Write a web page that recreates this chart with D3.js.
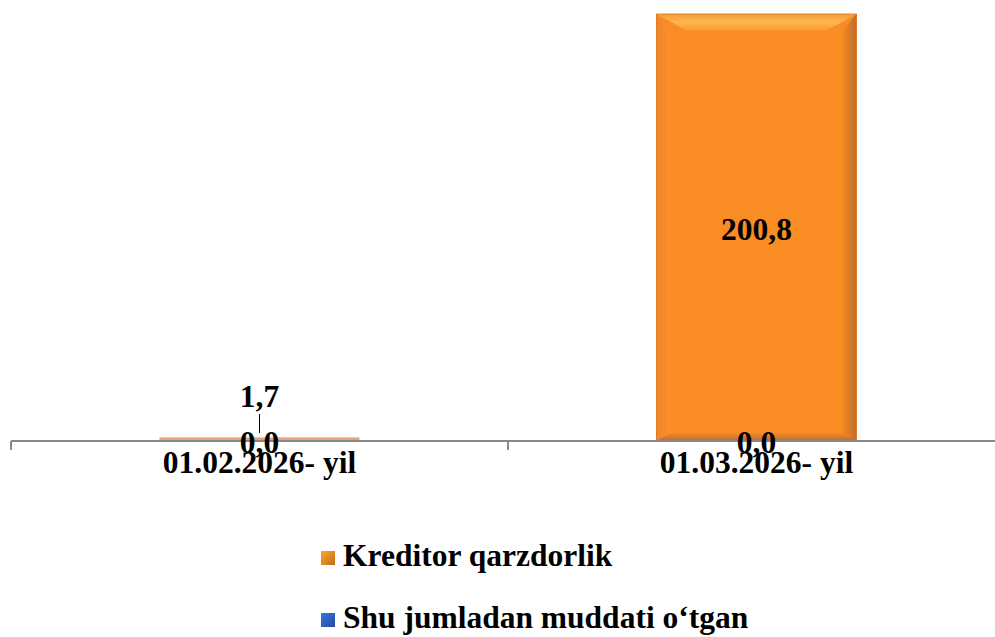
<!DOCTYPE html>
<html><head><meta charset="utf-8">
<script src="https://cdn.jsdelivr.net/npm/d3@7/dist/d3.min.js"></script>
<style>body{margin:0;background:#fff}svg{display:block}</style>
</head><body><svg id="c" width="995" height="637"></svg>
<script>
const categories = ["01.02.2026- yil", "01.03.2026- yil"];
const seriesNames = ["Kreditor qarzdorlik", "Shu jumladan muddati o‘tgan"];
const kreditor = [1.7, 200.8];
const muddati = [0.0, 0.0];
const seriesColors = ["#F98A22", "#2E62C4"];

const FONT = '"Liberation Serif"';
const FS = 31.5;
const svg = d3.select("#c");
const txt = (sel) => sel.append("text").style("font-family", FONT).style("font-weight", "bold").attr("fill", "#000");
const W = 995;
const x = d3.scaleBand().domain(categories).range([11, 1005]).paddingInner(0).paddingOuter(0);
const y = d3.scaleLinear().domain([0, 200.8]).range([441, 14]);
const barW = 200;
const fmt = v => v.toFixed(1).replace(".", ",");

const defs = svg.append("defs");
const gTop = defs.append("linearGradient").attr("id","gTop").attr("x1",0).attr("y1",0).attr("x2",0).attr("y2",1);
gTop.append("stop").attr("offset","0").attr("stop-color","#F49A3A");
gTop.append("stop").attr("offset","0.5").attr("stop-color","#FDB850");
gTop.append("stop").attr("offset","1").attr("stop-color","#FB9A2C");
const gRight = defs.append("linearGradient").attr("id","gRight").attr("x1",0).attr("y1",0).attr("x2",1).attr("y2",0);
gRight.append("stop").attr("offset","0").attr("stop-color","#F38A25");
gRight.append("stop").attr("offset","1").attr("stop-color","#B8692A");
const gLeft = defs.append("linearGradient").attr("id","gLeft").attr("x1",0).attr("y1",0).attr("x2",1).attr("y2",0);
gLeft.append("stop").attr("offset","0").attr("stop-color","#F0852A");
gLeft.append("stop").attr("offset","1").attr("stop-color","#FB8F28");
const gBot = defs.append("linearGradient").attr("id","gBot").attr("x1",0).attr("y1",0).attr("x2",0).attr("y2",1);
gBot.append("stop").attr("offset","0").attr("stop-color","#F08A30");
gBot.append("stop").attr("offset","1").attr("stop-color","#C06A2A");

categories.forEach((c, i) => {
  const cx = x(c) + x.bandwidth()/2;
  const x0 = cx - barW/2, x1 = cx + barW/2;
  const yt = y(kreditor[i]), yb = y(0);
  const h = yb - yt;
  const g = svg.append("g");
  if (h < 10) {
    g.append("rect").attr("x", x0).attr("y", yt).attr("width", barW).attr("height", h).attr("fill", "#EBA27C");
    return;
  }
  const b = Math.min(30, h/2);
  g.append("rect").attr("x", x0).attr("y", yt).attr("width", barW).attr("height", h).attr("fill", "#FA8C24");
  g.append("polygon").attr("points", `${x0},${yt} ${x1},${yt} ${x1-b},${yt+b*0.55} ${x0+b},${yt+b*0.55}`).attr("fill","url(#gTop)");
  g.append("polygon").attr("points", `${x1},${yt} ${x1},${yb} ${x1-14},${yb-8} ${x1-14},${yt+b*0.55}`).attr("fill","url(#gRight)").attr("opacity",0.9);
  g.append("polygon").attr("points", `${x0},${yt} ${x0+14},${yt+b*0.55} ${x0+14},${yb-8} ${x0},${yb}`).attr("fill","url(#gLeft)");
  g.append("polygon").attr("points", `${x0},${yb} ${x0+14},${yb-8} ${x1-14},${yb-8} ${x1},${yb}`).attr("fill","url(#gBot)");
  g.append("rect").attr("x", x0).attr("y", yt).attr("width", barW).attr("height", h).attr("fill", "none").attr("stroke","#D9701A").attr("stroke-width",0.8);
});

const axisG = svg.append("g");
axisG.append("line").attr("x1", 11).attr("x2", W).attr("y1", y(0)).attr("y2", y(0)).attr("stroke", "#898989").attr("stroke-width", 2);
[x(categories[0]), x(categories[1])].forEach(t => axisG.append("line").attr("x1", t).attr("x2", t).attr("y1", y(0)).attr("y2", y(0)+9).attr("stroke", "#898989").attr("stroke-width", 2));

categories.forEach(c => {
  txt(svg).attr("x", x(c)+x.bandwidth()/2).attr("y", 473).attr("text-anchor","middle").attr("font-size", FS).text(c);
});

categories.forEach((c, i) => {
  const cx = x(c) + x.bandwidth()/2;
  const h = y(0) - y(kreditor[i]);
  if (h > 40) {
    txt(svg).attr("x", cx).attr("y", y(kreditor[i]/2)+12).attr("text-anchor","middle").attr("font-size", FS).text(fmt(kreditor[i]));
  } else {
    txt(svg).attr("x", cx).attr("y", 407).attr("text-anchor","middle").attr("font-size", FS).text(fmt(kreditor[i]));
    svg.append("line").attr("x1", cx).attr("x2", cx).attr("y1", 414).attr("y2", 433).attr("stroke","#000").attr("stroke-width",1);
  }
});
categories.forEach((c, i) => {
  const cx = x(c) + x.bandwidth()/2;
  txt(svg).attr("x", cx).attr("y", y(muddati[i])+12).attr("text-anchor","middle").attr("font-size", FS).text(fmt(muddati[i]));
});

const legY = [566, 628];
seriesNames.forEach((n, i) => {
  const g = svg.append("g");
  const lg = defs.append("linearGradient").attr("id","lg"+i).attr("x1",0).attr("y1",0).attr("x2",1).attr("y2",1);
  lg.append("stop").attr("offset","0").attr("stop-color", d3.color(seriesColors[i]).brighter(0.5));
  lg.append("stop").attr("offset","1").attr("stop-color", d3.color(seriesColors[i]).darker(0.7));
  g.append("rect").attr("x", 321).attr("y", legY[i]-15).attr("width", 14).attr("height", 14).attr("fill", `url(#lg${i})`);
  txt(g).attr("x", 343).attr("y", legY[i]).attr("font-size", FS).text(n);
});
</script></body></html>
